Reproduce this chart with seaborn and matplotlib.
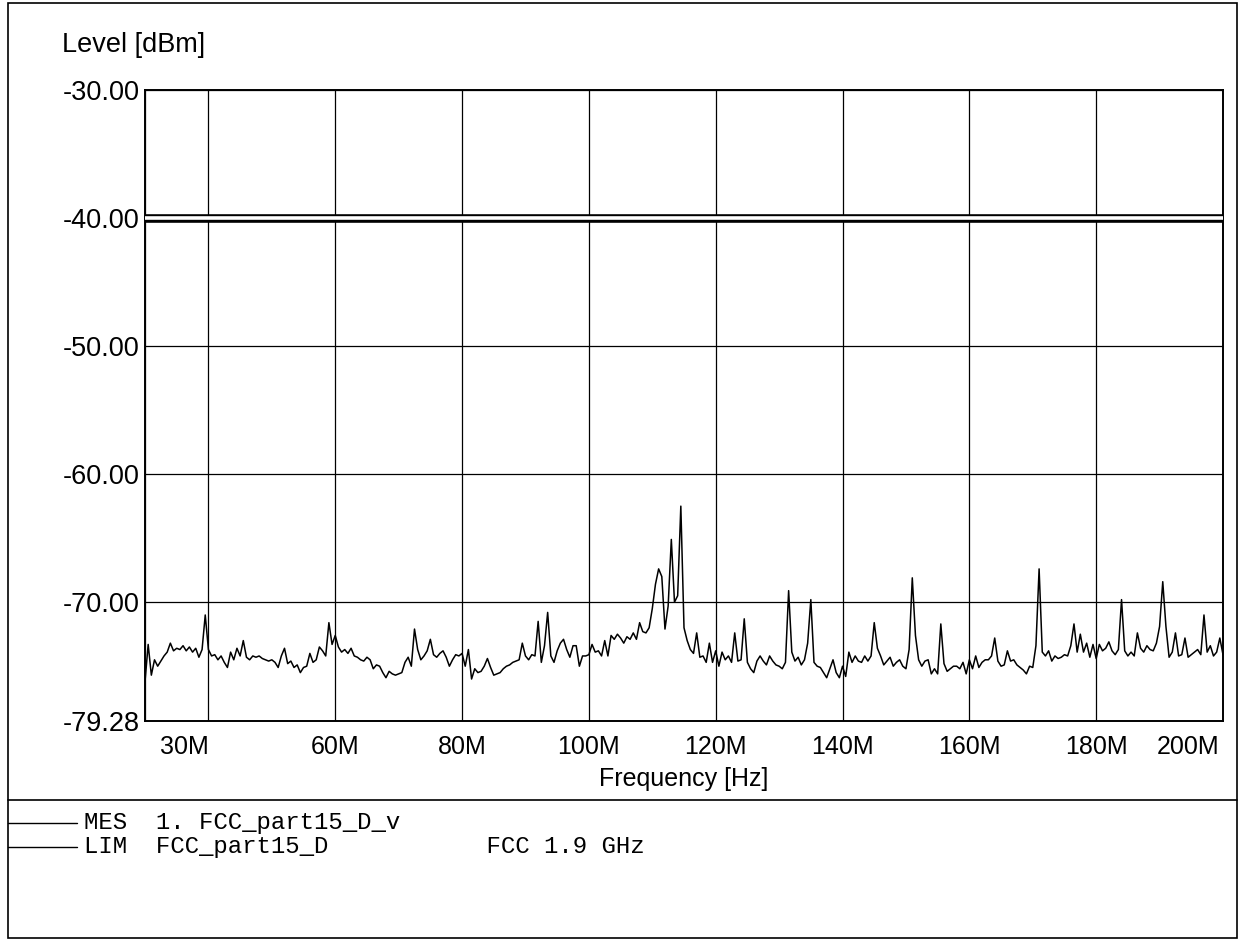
import numpy as np
import pandas as pd
import matplotlib
matplotlib.use("Agg")
import matplotlib.pyplot as plt
import matplotlib.patheffects as pe
from matplotlib.lines import Line2D
from matplotlib.patches import Rectangle
from matplotlib.transforms import ScaledTranslation
import seaborn as sns

# ---------------- data ----------------
# measurement sweep: 30 MHz .. 200 MHz, 0.5 MHz steps (levels in dBm)
SWEEP_START_MHZ = 30.0
SWEEP_STEP_MHZ = 0.5

mes_30 = [-76.2, -73.3, -75.7, -74.5, -75.0, -74.6, -74.2, -73.9, -73.2, -73.8,
          -73.6, -73.7, -73.4, -73.8, -73.5, -73.9, -73.6, -74.3, -73.7, -71.0]
mes_40 = [-73.7, -74.2, -74.1, -74.5, -74.2, -74.7, -75.1, -73.9, -74.5, -73.6,
          -74.2, -73.0, -74.3, -74.5, -74.2, -74.3, -74.2, -74.4, -74.5, -74.6]
mes_50 = [-74.5, -74.7, -75.1, -74.2, -73.6, -74.8, -74.6, -75.1, -74.9, -75.5,
          -75.1, -75.0, -74.0, -74.7, -74.5, -73.5, -73.8, -74.2, -71.6, -73.3]
mes_60 = [-72.6, -73.5, -73.9, -73.7, -74.0, -73.6, -74.2, -74.3, -74.5, -74.6,
          -74.3, -74.5, -75.2, -74.9, -75.0, -75.5, -75.9, -75.4, -75.6, -75.7]
mes_70 = [-75.6, -75.5, -74.7, -74.3, -75.0, -72.1, -73.7, -74.5, -74.2, -73.8,
          -72.9, -74.1, -74.3, -74.0, -73.8, -74.3, -75.0, -74.5, -74.1, -74.2]
mes_80 = [-74.0, -75.0, -73.7, -76.0, -75.2, -75.5, -75.4, -75.0, -74.4, -75.1,
          -75.7, -75.6, -75.5, -75.2, -75.0, -74.9, -74.7, -74.6, -74.5, -73.2]
mes_90 = [-74.2, -74.5, -74.1, -74.2, -71.5, -74.7, -73.4, -70.8, -74.2, -74.7,
          -73.8, -73.2, -72.9, -73.7, -74.3, -73.4, -73.4, -75.0, -74.2, -74.2]
mes_100 = [-74.1, -73.3, -73.9, -73.8, -74.2, -73.0, -74.2, -72.6, -72.9, -72.5,
           -72.8, -73.2, -72.7, -72.9, -72.4, -72.9, -71.6, -72.3, -72.4, -72.0]
mes_110 = [-70.5, -68.6, -67.4, -68.0, -72.1, -70.3, -65.1, -70.0, -69.5, -62.5,
           -72.0, -73.0, -73.7, -74.0, -72.4, -74.3, -74.2, -74.7, -73.2, -74.7]
mes_120 = [-73.8, -75.0, -73.9, -74.5, -74.2, -74.7, -72.4, -74.6, -74.5, -71.3,
           -74.7, -75.2, -75.5, -74.6, -74.2, -74.6, -74.9, -74.2, -74.6, -74.9]
mes_130 = [-75.0, -75.2, -74.7, -69.1, -73.9, -74.6, -74.3, -74.9, -74.5, -73.2,
           -69.8, -74.7, -75.0, -75.1, -75.5, -75.9, -75.2, -74.5, -75.5, -75.9]
mes_140 = [-75.0, -75.8, -73.9, -74.7, -74.2, -74.6, -74.7, -74.2, -74.6, -74.2,
           -71.6, -73.6, -74.2, -74.9, -74.6, -74.3, -75.0, -74.7, -74.5, -75.0]
mes_150 = [-75.2, -73.7, -68.1, -72.6, -74.5, -75.0, -74.6, -74.5, -75.6, -75.2,
           -75.6, -71.7, -74.8, -75.4, -75.2, -75.0, -75.0, -75.2, -74.7, -75.6]
mes_160 = [-74.5, -75.2, -74.2, -75.1, -74.7, -74.5, -74.5, -74.2, -72.8, -74.6,
           -75.0, -74.9, -73.8, -74.6, -74.5, -74.9, -75.1, -75.3, -75.6, -75.0]
mes_170 = [-75.1, -73.4, -67.4, -73.9, -74.2, -73.8, -74.6, -74.2, -74.4, -74.3,
           -74.1, -74.2, -73.4, -71.7, -73.9, -72.5, -73.9, -73.2, -74.3, -73.3]
mes_180 = [-74.4, -73.3, -73.8, -73.6, -73.1, -73.8, -74.1, -73.7, -69.8, -73.8,
           -74.2, -73.9, -74.2, -72.4, -73.6, -73.9, -73.4, -73.7, -73.8, -73.2]
mes_190 = [-71.9, -68.4, -71.9, -74.3, -73.9, -72.4, -74.2, -74.1, -72.8, -74.3,
           -74.1, -73.9, -73.7, -74.1, -71.0, -73.9, -73.4, -74.2, -73.9, -72.8,
           -74.1]

mes_level = (mes_30 + mes_40 + mes_50 + mes_60 + mes_70 + mes_80 + mes_90 +
             mes_100 + mes_110 + mes_120 + mes_130 + mes_140 + mes_150 +
             mes_160 + mes_170 + mes_180 + mes_190)
mes_freq = SWEEP_START_MHZ + SWEEP_STEP_MHZ * np.arange(len(mes_level))

# limit line
lim_freq = [30.0, 200.0]
lim_level = [-40.0, -40.0]

# axes
x_min, x_max = 30.0, 200.0
y_min, y_max = -79.28, -30.0
x_ticks = [30, 40, 60, 80, 100, 120, 140, 160, 180, 200]
x_tick_labels = ["30M", "", "60M", "80M", "100M", "120M", "140M", "160M", "180M", "200M"]
y_ticks = [-30.0, -40.0, -50.0, -60.0, -70.0, -79.28]

y_title = "Level [dBm]"
x_title = "Frequency [Hz]"
legend_rows = [
    "MES  1. FCC_part15_D_v",
    "LIM  FCC_part15_D           FCC 1.9 GHz",
]

# ---------------- drawing ----------------
sns.set_theme(style="white")
plt.rcParams["font.family"] = ["Liberation Sans", "DejaVu Sans"]

W, H = 1241, 942
fig = plt.figure(figsize=(W / 100, H / 100), dpi=100)
fig.patch.set_facecolor("white")

ax_l, ax_r, ax_t, ax_b = 145, 1223, 90, 721
ax = fig.add_axes([ax_l / W, 1 - ax_b / H, (ax_r - ax_l) / W, (ax_b - ax_t) / H])
ax.set_facecolor("white")

df = pd.DataFrame({"freq": mes_freq, "level": mes_level})
sns.lineplot(data=df, x="freq", y="level", ax=ax, color="black", lw=1.1,
             estimator=None, zorder=3)
sns.lineplot(x=lim_freq, y=lim_level, ax=ax, color="white", lw=2.6,
             estimator=None, zorder=4,
             path_effects=[pe.Stroke(linewidth=6.2, foreground="black"), pe.Normal()])

ax.set_xlim(x_min, x_max)
ax.set_ylim(y_min, y_max)
ax.set_xticks(x_ticks)
ax.set_xticklabels(x_tick_labels)
ax.set_yticks(y_ticks)
ax.set_yticklabels([f"{v:.2f}" for v in y_ticks])

ax.grid(True, color="black", lw=0.9)
ax.set_axisbelow(True)
for s in ax.spines.values():
    s.set_color("black")
    s.set_linewidth(1.4)

ax.tick_params(axis="both", length=0, colors="black")
ax.tick_params(axis="x", pad=10, labelsize=18)
ax.tick_params(axis="y", pad=4, labelsize=19.5)

xt = ax.get_xticklabels()
xt[0].set_horizontalalignment("left")
xt[0].set_transform(xt[0].get_transform() + ScaledTranslation(15 / 100, 0, fig.dpi_scale_trans))
xt[-1].set_horizontalalignment("right")
xt[-1].set_transform(xt[-1].get_transform() + ScaledTranslation(-4 / 100, 0, fig.dpi_scale_trans))

ax.set_xlabel(x_title, fontsize=18, color="black", labelpad=6)
ax.set_ylabel("")
fig.text(62 / W, 1 - 45 / H, y_title, fontsize=19.5, color="black", ha="left", va="center")

# outer frame and separator
fig.add_artist(Rectangle((8 / W, 1 - 938 / H), (1237 - 8) / W, (938 - 3) / H,
                         transform=fig.transFigure, fill=False, ec="black", lw=1.2))
fig.add_artist(Line2D([8 / W, 1237 / W], [1 - 800 / H, 1 - 800 / H],
                      transform=fig.transFigure, color="black", lw=1.2))

# legend rows
for i, row in enumerate(legend_rows):
    yy = 1 - (823 + 24 * i) / H
    fig.add_artist(Line2D([8 / W, 77 / W], [yy, yy], transform=fig.transFigure,
                          color="black", lw=1.0))
    fig.text(84 / W, yy, row, fontsize=17.3, family=["Liberation Mono", "DejaVu Sans Mono"],
             color="black", ha="left", va="center")

fig.savefig("out.png", dpi=100)
